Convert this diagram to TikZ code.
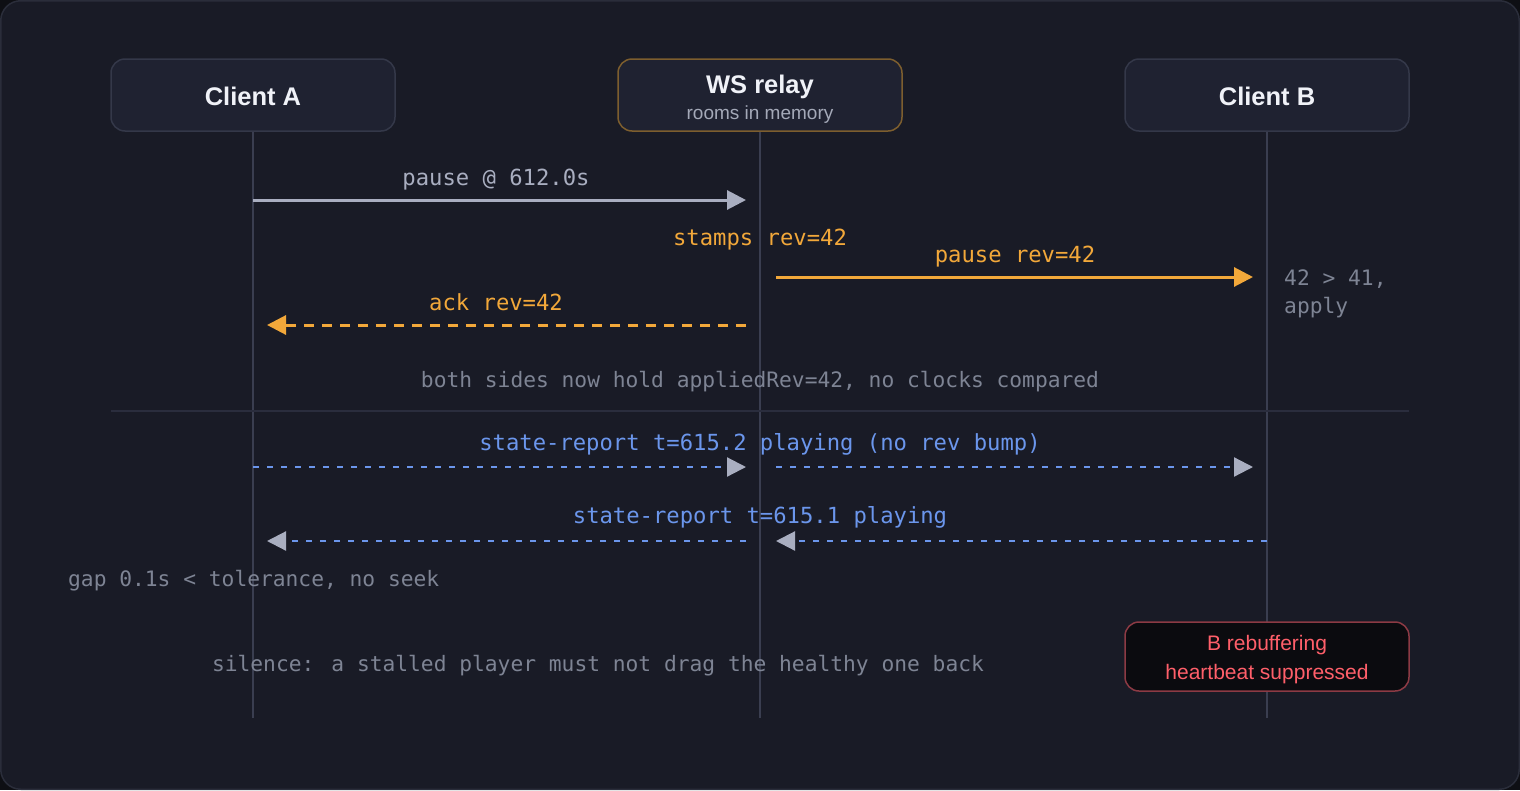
\documentclass[tikz,border=0pt]{standalone}
\usepackage{fontspec}
\setmainfont{Liberation Sans}
\newfontfamily\monof{DejaVu Sans Mono}
\usetikzlibrary{arrows.meta}
\definecolor{cornerc}{HTML}{0E0F14}
\definecolor{bgc}{HTML}{191B26}
\definecolor{framec}{HTML}{2A2D3A}
\definecolor{boxfill}{HTML}{1F2231}
\definecolor{boxline}{HTML}{343849}
\definecolor{relayline}{HTML}{7D5E2E}
\definecolor{titlec}{HTML}{F0F2F8}
\definecolor{subc}{HTML}{A4A9B8}
\definecolor{lifec}{HTML}{3A3E50}
\definecolor{grayarr}{HTML}{A9AEC0}
\definecolor{orangec}{HTML}{F2A83A}
\definecolor{bluec}{HTML}{6B96EC}
\definecolor{notec}{HTML}{7E8494}
\definecolor{sepc}{HTML}{2A2D3D}
\definecolor{redfill}{HTML}{0B0B0F}
\definecolor{redline}{HTML}{8C3A44}
\definecolor{redtext}{HTML}{FF5F6A}
\begin{document}
\begin{tikzpicture}[x=1pt,y=-1pt,
  actor/.style={draw=boxline, fill=boxfill, line width=1.5pt, rounded corners=14pt,
    minimum width=284pt, minimum height=72pt, inner sep=0pt},
  hdr/.style={inner sep=0pt, anchor=base, text=titlec, font=\bfseries\fontsize{25.5}{30}\selectfont},
  sub/.style={inner sep=0pt, anchor=base, text=subc, font=\fontsize{19}{23}\selectfont},
  life/.style={draw=lifec, line width=1.5pt},
  msglab/.style={inner sep=0pt, anchor=base, font=\monof\fontsize{22.2}{26}\selectfont},
  notelab/.style={inner sep=0pt, anchor=base, text=notec, font=\monof\fontsize{21.25}{25}\selectfont},
  graytip/.style={-{Triangle[length=19pt,width=19pt,color=grayarr]}},
  orangetip/.style={-{Triangle[length=19pt,width=19pt,color=orangec]}},
  solidgray/.style={draw=grayarr, line width=3pt},
  solidorange/.style={draw=orangec, line width=3pt},
  dashorange/.style={draw=orangec, line width=3pt, dash pattern=on 10pt off 8pt},
  dotblue/.style={draw=bluec, line width=2.2pt, dash pattern=on 6pt off 8pt},
  warnbox/.style={draw=redline, fill=redfill, line width=1.5pt, rounded corners=14pt,
    minimum width=284pt, minimum height=69pt, inner sep=0pt},
  warnlab/.style={inner sep=0pt, anchor=base, text=redtext, font=\fontsize{21}{25}\selectfont}
]
\useasboundingbox (0,0) rectangle (1520,790);
\fill[cornerc] (0,0) rectangle (1520,790);
\draw[draw=framec, fill=bgc, line width=1.5pt, rounded corners=20pt] (0.75,0.75) rectangle (1519.25,789.25);

% lifeline ends
\coordinate (Aend) at (253,718);
\coordinate (Rend) at (760,718);
\coordinate (Bend) at (1267,718);

% actor boxes
\node[actor] (A) at (253,95) {};
\node[actor, draw=relayline] (R) at (760,95) {};
\node[actor] (B) at (1267,95) {};

\draw[life] (A.south) -- (Aend);
\draw[life] (R.south) -- (Rend);
\draw[life] (B.south) -- (Bend);

\node[hdr] (At) at (253,105) {Client A};
\node[hdr] (Rt) at (760,93) {WS relay};
\node[sub] (Rs) at (760,119) {rooms in memory};
\node[hdr] (Bt) at (1267,105) {Client B};

% separator
\coordinate (s1) at (111,411);
\coordinate (s2) at (1409,411);
\draw[draw=sepc, line width=1.5pt] (s1) -- (s2);

% message 1
\coordinate (m1a) at (253,200);
\coordinate (m1b) at (746,200);
\draw[solidgray, graytip] (m1a) -- (m1b);
\node[msglab, text=grayarr] (l1) at (496,185) {pause @ 612.0s};

\node[msglab, text=orangec] (st) at (760,245) {stamps rev=42};

% message 2
\coordinate (m2a) at (776,277);
\coordinate (m2b) at (1253,277);
\draw[solidorange, orangetip] (m2a) -- (m2b);
\node[msglab, text=orangec] (l2) at (1015,262) {pause rev=42};

\node[notelab, anchor=base west, text=notec] (ap1) at (1284,285) {42 > 41,};
\node[notelab, anchor=base west, text=notec] (ap2) at (1284,313) {apply};

% message 3
\coordinate (m3a) at (746,325);
\coordinate (m3b) at (267,325);
\draw[dashorange, orangetip] (m3a) -- (m3b);
\node[msglab, text=orangec] (l3) at (496,310) {ack rev=42};

\node[notelab] (both) at (760,387) {both sides now hold appliedRev=42, no clocks compared};

% message 4
\coordinate (m4a) at (253,467);
\coordinate (m4b) at (746,467);
\coordinate (m4c) at (776,467);
\coordinate (m4d) at (1253,467);
\draw[dotblue, graytip] (m4a) -- (m4b);
\draw[dotblue, graytip] (m4c) -- (m4d);
\node[msglab, text=bluec] (l4) at (760,450) {state-report t=615.2 playing (no rev bump)};

% message 5
\coordinate (m5a) at (1267,541);
\coordinate (m5b) at (776,541);
\coordinate (m5c) at (746,541);
\coordinate (m5d) at (267,541);
\draw[dotblue, graytip] (m5a) -- (m5b);
\draw[dotblue, graytip] (m5c) -- (m5d);
\node[msglab, text=bluec] (l5) at (760,523) {state-report t=615.1 playing};

\node[notelab, anchor=base west] (gap) at (68,586) {gap 0.1s < tolerance, no seek};
\node[notelab] (sil) at (598,671) {silence: a stalled player must not drag the healthy one back};

% warning box
\node[warnbox] (W) at (1267,656.5) {};
\node[warnlab] (W1) at (1267,650) {B rebuffering};
\node[warnlab] (W2) at (1267,679) {heartbeat suppressed};
\end{tikzpicture}
\end{document}
